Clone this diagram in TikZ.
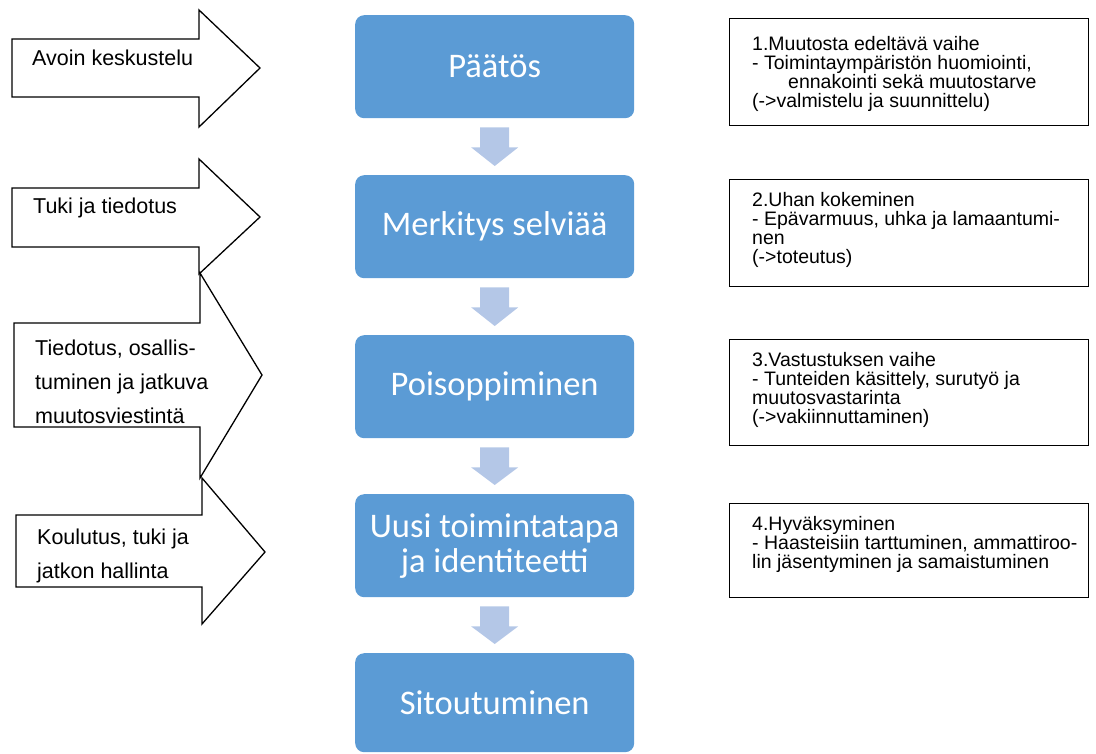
\documentclass[tikz,border=0pt]{standalone}
\usepackage{fontspec}
\setmainfont{Liberation Sans}
\newfontfamily\carlitofont{Carlito}
\usetikzlibrary{calc}
\definecolor{boxblue}{HTML}{5B9BD5}
\definecolor{arrowblue}{HTML}{B4C7E7}
\begin{document}
\begin{tikzpicture}[x=1pt,y=-1pt,
  stage/.style={fill=boxblue, rounded corners=9pt, minimum width=279pt, minimum height=103pt,
    inner sep=0pt, text=white, font=\carlitofont\fontsize{34.5}{35}\selectfont, align=center, anchor=north west},
  flowarrow/.style={fill=arrowblue},
  outline/.style={draw=black, line width=1.3pt, line join=miter, fill=white},
  lefttext/.style={font=\fontsize{21.5}{34}\selectfont, align=left, inner sep=0pt, anchor=north west},
  infobox/.style={draw=black, line width=1.3pt, minimum width=359pt, anchor=north west, inner sep=0pt},
  infotext/.style={font=\fontsize{19.5}{19}\selectfont, align=left, inner sep=0pt, anchor=north west}]
\useasboundingbox (0,0) rectangle (1096,753);

% central stages
\node[stage] (s1) at (355,15) {Päätös};
\node[stage] (s2) at (355,175) {Merkitys selviää};
\node[stage] (s3) at (355,335) {Poisoppiminen};
\node[stage] (s4) at (355,494) {Uusi toimintatapa\\ja identiteetti};
\node[stage, minimum height=99pt] (s5) at (355,653) {Sitoutuminen};

% down arrows between stages
\foreach \a/\b in {s1/s2,s2/s3,s3/s4,s4/s5}{
  \fill[flowarrow] ($(\a.south)+(-14.5,9)$) -- ($(\a.south)+(14.5,9)$) -- ($(\a.south)+(14.5,29)$)
    -- ($(\a.south)+(23.5,29)$) -- ($(\b.north)+(0,-9)$) -- ($(\a.south)+(-23.5,29)$)
    -- ($(\a.south)+(-14.5,29)$) -- cycle;
}

% left block arrows
\draw[outline] (12,39) -- (199,39) -- (199,10) -- (260,68) -- (199,127) -- (199,97) -- (12,97) -- cycle;
\draw[outline] (12,188) -- (199,188) -- (199,159) -- (260,217) -- (199,274) -- (199,247) -- (12,247) -- cycle;
\draw[outline] (14,323) -- (200,323) -- (200,273) -- (262,375) -- (200,478) -- (200,427) -- (14,427) -- cycle;
\draw[outline] (16,515) -- (202,515) -- (202,478) -- (265,552) -- (202,624) -- (202,587) -- (16,587) -- cycle;

\node[lefttext] (l1) at (32,50) {Avoin keskustelu};
\node[lefttext] (l2) at (33,198) {Tuki ja tiedotus};
\node[lefttext] (l3) at (35,340) {Tiedotus, osallis-\\tuminen ja jatkuva\\muutosviestintä};
\node[lefttext] (l4) at (37,529) {Koulutus, tuki ja\\jatkon hallinta};

% right info boxes
\node[infobox, minimum height=107pt] (r1) at (729,18) {};
\node[infotext] (t1) at (752,36) {1.Muutosta edeltävä vaihe\\- Toimintaympäristön huomiointi,\\\hspace*{36pt}ennakointi sekä muutostarve\\(->valmistelu ja suunnittelu)};
\node[infobox, minimum height=107pt] (r2) at (729,179) {};
\node[infotext] (t2) at (752,192.5) {2.Uhan kokeminen\\- Epävarmuus, uhka ja lamaantumi-\\nen\\(->toteutus)};
\node[infobox, minimum height=106pt] (r3) at (729,339) {};
\node[infotext] (t3) at (752,352.5) {3.Vastustuksen vaihe\\- Tunteiden käsittely, surutyö ja\\muutosvastarinta\\(->vakiinnuttaminen)};
\node[infobox, minimum height=94pt] (r4) at (729,503) {};
\node[infotext] (t4) at (752,516) {4.Hyväksyminen\\- Haasteisiin tarttuminen, ammattiroo-\\lin jäsentyminen ja samaistuminen};
\end{tikzpicture}
\end{document}
